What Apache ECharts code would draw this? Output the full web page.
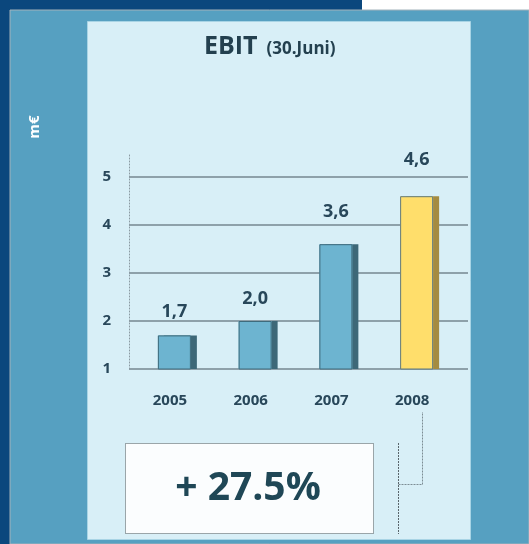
<!DOCTYPE html>
<html>
<head>
<meta charset="utf-8">
<script src="https://cdn.jsdelivr.net/npm/echarts@6/dist/echarts.min.js"></script>
<style>
  html, body { margin: 0; padding: 0; background: #0b477d; }
  #chart { width: 529px; height: 544px; }
</style>
</head>
<body>
<div id="chart"></div>
<script>
const years = ['2005', '2006', '2007', '2008']
const ebit = [1.7, 2.0, 3.6, 4.6]
const yTicks = [1, 2, 3, 4, 5]
const growthText = '+ 27.5%'
const unitText = 'm€'

const FONT = '"Open Sans", "Noto Sans", sans-serif'
const TEXT = '#28475a'

// labels sit at different heights above the bars in the original
const labelRaise = [10, 8, 18, 22]

const chart = echarts.init(document.getElementById('chart'))

const isLast = (i) => i === ebit.length - 1

// back layer: gives the dark right side via an offset shadow
const shadowData = ebit.map((v, i) => ({
  value: v,
  itemStyle: isLast(i)
    ? { color: '#ffde6b', shadowColor: '#a58b40' }
    : { color: '#6db4d0', shadowColor: '#3d6878' },
  label: { offset: [0, -labelRaise[i]] },
}))

// front layer: bar face with its outline
const faceData = ebit.map((v, i) => ({
  value: v,
  itemStyle: isLast(i)
    ? { color: '#ffde6b', borderColor: '#5f7a80' }
    : { color: '#6db4d0', borderColor: '#3f6b7c' },
}))

const option = {
  animation: false,
  backgroundColor: '#0b477d',
  textStyle: { fontFamily: FONT },
  title: {
    text: '{a|EBIT}{b|(30.Juni)}',
    left: 199,
    top: 29,
    textStyle: {
      rich: {
        a: { fontFamily: FONT, fontSize: 25, fontWeight: 'bold', color: '#23404f', padding: [0, 9, 0, 0] },
        b: {
          fontFamily: FONT, fontSize: 17, fontWeight: 'bold', color: '#23404f',
          verticalAlign: 'bottom', padding: [0, 0, 1, 0],
        },
      },
    },
  },
  graphic: [
    { type: 'rect', z: -10, shape: { x: 362, y: 0, width: 167, height: 10 }, style: { fill: '#ffffff' } },
    {
      type: 'rect', z: -10,
      shape: { x: 10, y: 10, width: 519, height: 534 },
      style: { fill: '#56a0c1', stroke: '#a3b2bb', lineWidth: 1 },
    },
    {
      type: 'rect', z: -9,
      shape: { x: 87.5, y: 21.5, width: 383, height: 518 },
      style: { fill: '#d8eff7', stroke: '#a8d4e5', lineWidth: 1 },
    },
    {
      type: 'text', z: 5,
      x: 35, y: 127, rotation: Math.PI / 2,
      style: {
        text: unitText, fill: '#ffffff', font: 'bold 15px ' + FONT,
        align: 'center', verticalAlign: 'middle',
      },
    },
    {
      type: 'rect', z: 5,
      shape: { x: 125.5, y: 443.5, width: 248, height: 90 },
      style: { fill: '#fbfdfe', stroke: '#4a5458', lineWidth: 1, lineDash: [1, 1] },
    },
    {
      type: 'text', z: 6,
      x: 248, y: 489,
      style: {
        text: growthText, fill: '#1f4756', font: 'bold 39px ' + FONT,
        align: 'center', verticalAlign: 'middle',
      },
    },
    {
      type: 'polyline', z: 5,
      shape: { points: [[398.5, 443], [398.5, 534]] },
      style: { stroke: '#5a666c', lineWidth: 1, lineDash: [2, 1] },
    },
    {
      type: 'polyline', z: 5,
      shape: { points: [[398.5, 484.5], [422.5, 484.5], [422.5, 412]] },
      style: { stroke: '#7d8d94', lineWidth: 1, lineDash: [2, 1] },
    },
  ],
  grid: [
    { left: 129, top: 153, width: 339, height: 216 },
    { left: 134, top: 153, width: 323, height: 216 },
  ],
  xAxis: [
    { gridIndex: 0, type: 'category', data: years, show: false },
    {
      gridIndex: 1,
      type: 'category',
      data: years,
      axisLine: { show: false },
      axisTick: { show: false },
      axisLabel: {
        margin: 24,
        fontSize: 15,
        fontWeight: 'bold',
        color: TEXT,
        fontFamily: FONT,
        padding: [0, 9, 0, 0],
      },
    },
  ],
  yAxis: [
    {
      gridIndex: 0,
      type: 'value',
      min: yTicks[0],
      max: 5.5,
      interval: 1,
      axisLine: { show: true, lineStyle: { color: '#8a9aa2', width: 1, type: [1, 2] } },
      axisTick: { show: false },
      axisLabel: {
        margin: 18,
        fontSize: 15,
        fontWeight: 'bold',
        color: TEXT,
        fontFamily: FONT,
        showMaxLabel: false,
      },
      splitLine: { show: true, showMaxLine: false, lineStyle: { color: '#8ea1aa', width: 2 } },
    },
    { gridIndex: 1, type: 'value', min: yTicks[0], max: 5.5, show: false },
  ],
  series: [
    {
      type: 'bar',
      xAxisIndex: 1,
      yAxisIndex: 1,
      barWidth: 33,
      data: shadowData,
      itemStyle: { borderWidth: 0, shadowOffsetX: 6, shadowOffsetY: 0, shadowBlur: 0 },
      label: {
        show: true,
        position: 'top',
        fontSize: 18,
        fontWeight: 'bold',
        color: TEXT,
        fontFamily: FONT,
        formatter: (p) => p.value.toFixed(1).replace('.', ','),
      },
    },
    {
      type: 'bar',
      xAxisIndex: 1,
      yAxisIndex: 1,
      barWidth: 33,
      barGap: '-100%',
      data: faceData,
      itemStyle: { borderWidth: 1 },
      label: { show: false },
    },
  ],
}

chart.setOption(option)
</script>
</body>
</html>
